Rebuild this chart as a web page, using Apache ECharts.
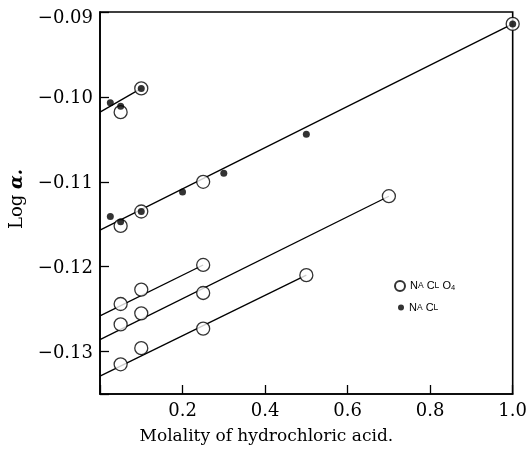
<!DOCTYPE html>
<html>
<head>
<meta charset="utf-8">
<script src="https://cdn.jsdelivr.net/npm/echarts@6/dist/echarts.min.js"></script>
<style>html,body{margin:0;padding:0;background:#fff}#c{width:530px;height:451px}</style>
</head>
<body>
<div id="c"></div>
<script>
// ---- data ----
const xTicks = [0.2, 0.4, 0.6, 0.8, 1.0];
const yTicks = [-0.13, -0.12, -0.11, -0.10, -0.09];

// NaClO4 (open circles)
const naclo4X = [0.05, 0.1,   0.05, 0.1, 0.25, 1.0,   0.05, 0.1, 0.25,   0.05, 0.1, 0.25, 0.7,   0.05, 0.1, 0.25, 0.5];
const naclo4Y = [-0.1018, -0.0990,   -0.1152, -0.1135, -0.1100, -0.0914,   -0.1244, -0.1227, -0.1198,   -0.1268, -0.1255, -0.1231, -0.1117,   -0.1315, -0.1296, -0.1273, -0.1210];

// NaCl (filled dots)
const naclX = [0.025, 0.05, 0.1,   0.025, 0.05, 0.1, 0.2, 0.3, 0.5, 1.0];
const naclY = [-0.1007, -0.1011, -0.0990,   -0.1141, -0.1147, -0.1135, -0.1112, -0.1090, -0.1044, -0.0914];

// fitted straight lines (end points)
const lineAX = [0, 0.1],  lineAY = [-0.1018, -0.0990];
const lineBX = [0, 1.0],  lineBY = [-0.1157, -0.0914];
const lineCX = [0, 0.25], lineCY = [-0.1258, -0.1198];
const lineDX = [0, 0.7],  lineDY = [-0.1286, -0.1117];
const lineEX = [0, 0.5],  lineEY = [-0.1329, -0.1210];

const zip = (xs, ys) => xs.map((x, i) => [x, ys[i]]);
const serif = 'DejaVu Serif';
const legendRich = {
  b: {fontFamily: 'Liberation Sans', fontSize: 11, color: '#000'},
  s: {fontFamily: 'Liberation Sans', fontSize: 8.5, color: '#000'},
  sub: {fontFamily: 'Liberation Sans', fontSize: 7.5, color: '#000', padding: [4, 0, 0, 0]}
};

const lines = [[lineAX, lineAY], [lineBX, lineBY], [lineCX, lineCY], [lineDX, lineDY], [lineEX, lineEY]];

const chart = echarts.init(document.getElementById('c'), null, {renderer: 'canvas'});
chart.setOption({
  animation: false,
  backgroundColor: '#fff',
  grid: {left: 100, top: 12, width: 416, height: 382, show: true, borderColor: '#000', borderWidth: 1.6, backgroundColor: 'transparent'},
  legend: [
    {data: ['NaClO₄'], left: 389, top: 275, orient: 'vertical', itemWidth: 10, itemHeight: 10,
     icon: 'circle', formatter: () => '{b|N}{s|A} {b|C}{s|L} {b|O}{sub|4}',
     textStyle: {fontFamily: 'Liberation Sans', fontSize: 11, color: '#000', rich: legendRich}},
    {data: ['NaCl'], left: 393, top: 297, orient: 'vertical', itemWidth: 6, itemHeight: 6,
     icon: 'circle', formatter: () => '{b|N}{s|A} {b|C}{s|L}',
     textStyle: {fontFamily: 'Liberation Sans', fontSize: 11, color: '#000', rich: legendRich}}
  ],
  xAxis: {
    type: 'value', min: 0, max: 1.0, interval: 0.2,
    name: 'Molality of hydrochloric acid.', nameLocation: 'middle', nameGap: 34,
    nameTextStyle: {fontFamily: serif, fontSize: 17, color: '#000', padding: [0, 80, 0, 0]},
    axisLine: {show: true, lineStyle: {color: '#000', width: 1.6}},
    axisTick: {show: true, inside: true, length: 9, lineStyle: {color: '#000', width: 1.3}},
    axisLabel: {margin: 8, fontFamily: serif, fontSize: 18, color: '#000',
      formatter: v => (xTicks.some(t => Math.abs(t - v) < 1e-9) ? v.toFixed(1) : '')},
    splitLine: {show: false}
  },
  yAxis: {
    type: 'value', min: -0.135, max: -0.09, splitNumber: 5,
    name: 'Log {a|α.}', nameLocation: 'middle', nameGap: 74,
    nameTextStyle: {fontFamily: serif, fontSize: 18, color: '#000', padding: [0, 0, 0, 8],
      rich: {a: {fontFamily: serif, fontSize: 18, fontStyle: 'italic', fontWeight: 'bold', color: '#000'}}},
    axisLine: {show: true, lineStyle: {color: '#000', width: 1.6}},
    axisTick: {show: true, inside: true, length: 9, lineStyle: {color: '#000', width: 1.3}},
    axisLabel: {margin: 7, fontFamily: serif, fontSize: 18, color: '#000',
      rich: {top: {fontFamily: serif, fontSize: 18, color: '#000', padding: [13, 0, 0, 0]},
             n: {fontFamily: serif, fontSize: 18, color: '#000', padding: [3, 0, 0, 0]}},
      formatter: v => {
        const t = yTicks.find(t => Math.abs(t - v) < 1e-9);
        if (t === undefined) return '';
        const s = '−' + Math.abs(t).toFixed(2);
        return Math.abs(t + 0.09) < 1e-9 ? '{top|' + s + '}' : '{n|' + s + '}';
      }},
    splitLine: {show: false}
  },
  series: [
    ...lines.map(([xs, ys]) => ({
      type: 'line', data: zip(xs, ys), showSymbol: false, silent: true, z: 1,
      lineStyle: {color: '#000', width: 1.3}
    })),
    {name: 'NaClO₄', type: 'scatter', data: zip(naclo4X, naclo4Y), symbol: 'circle', symbolSize: 13, z: 3, clip: false,
     itemStyle: {color: '#fff', borderColor: '#000', borderWidth: 1.3}},
    {name: 'NaCl', type: 'scatter', data: zip(naclX, naclY), symbol: 'circle', symbolSize: 7, z: 4, clip: false,
     itemStyle: {color: '#000'}}
  ]
});
</script>
</body>
</html>
